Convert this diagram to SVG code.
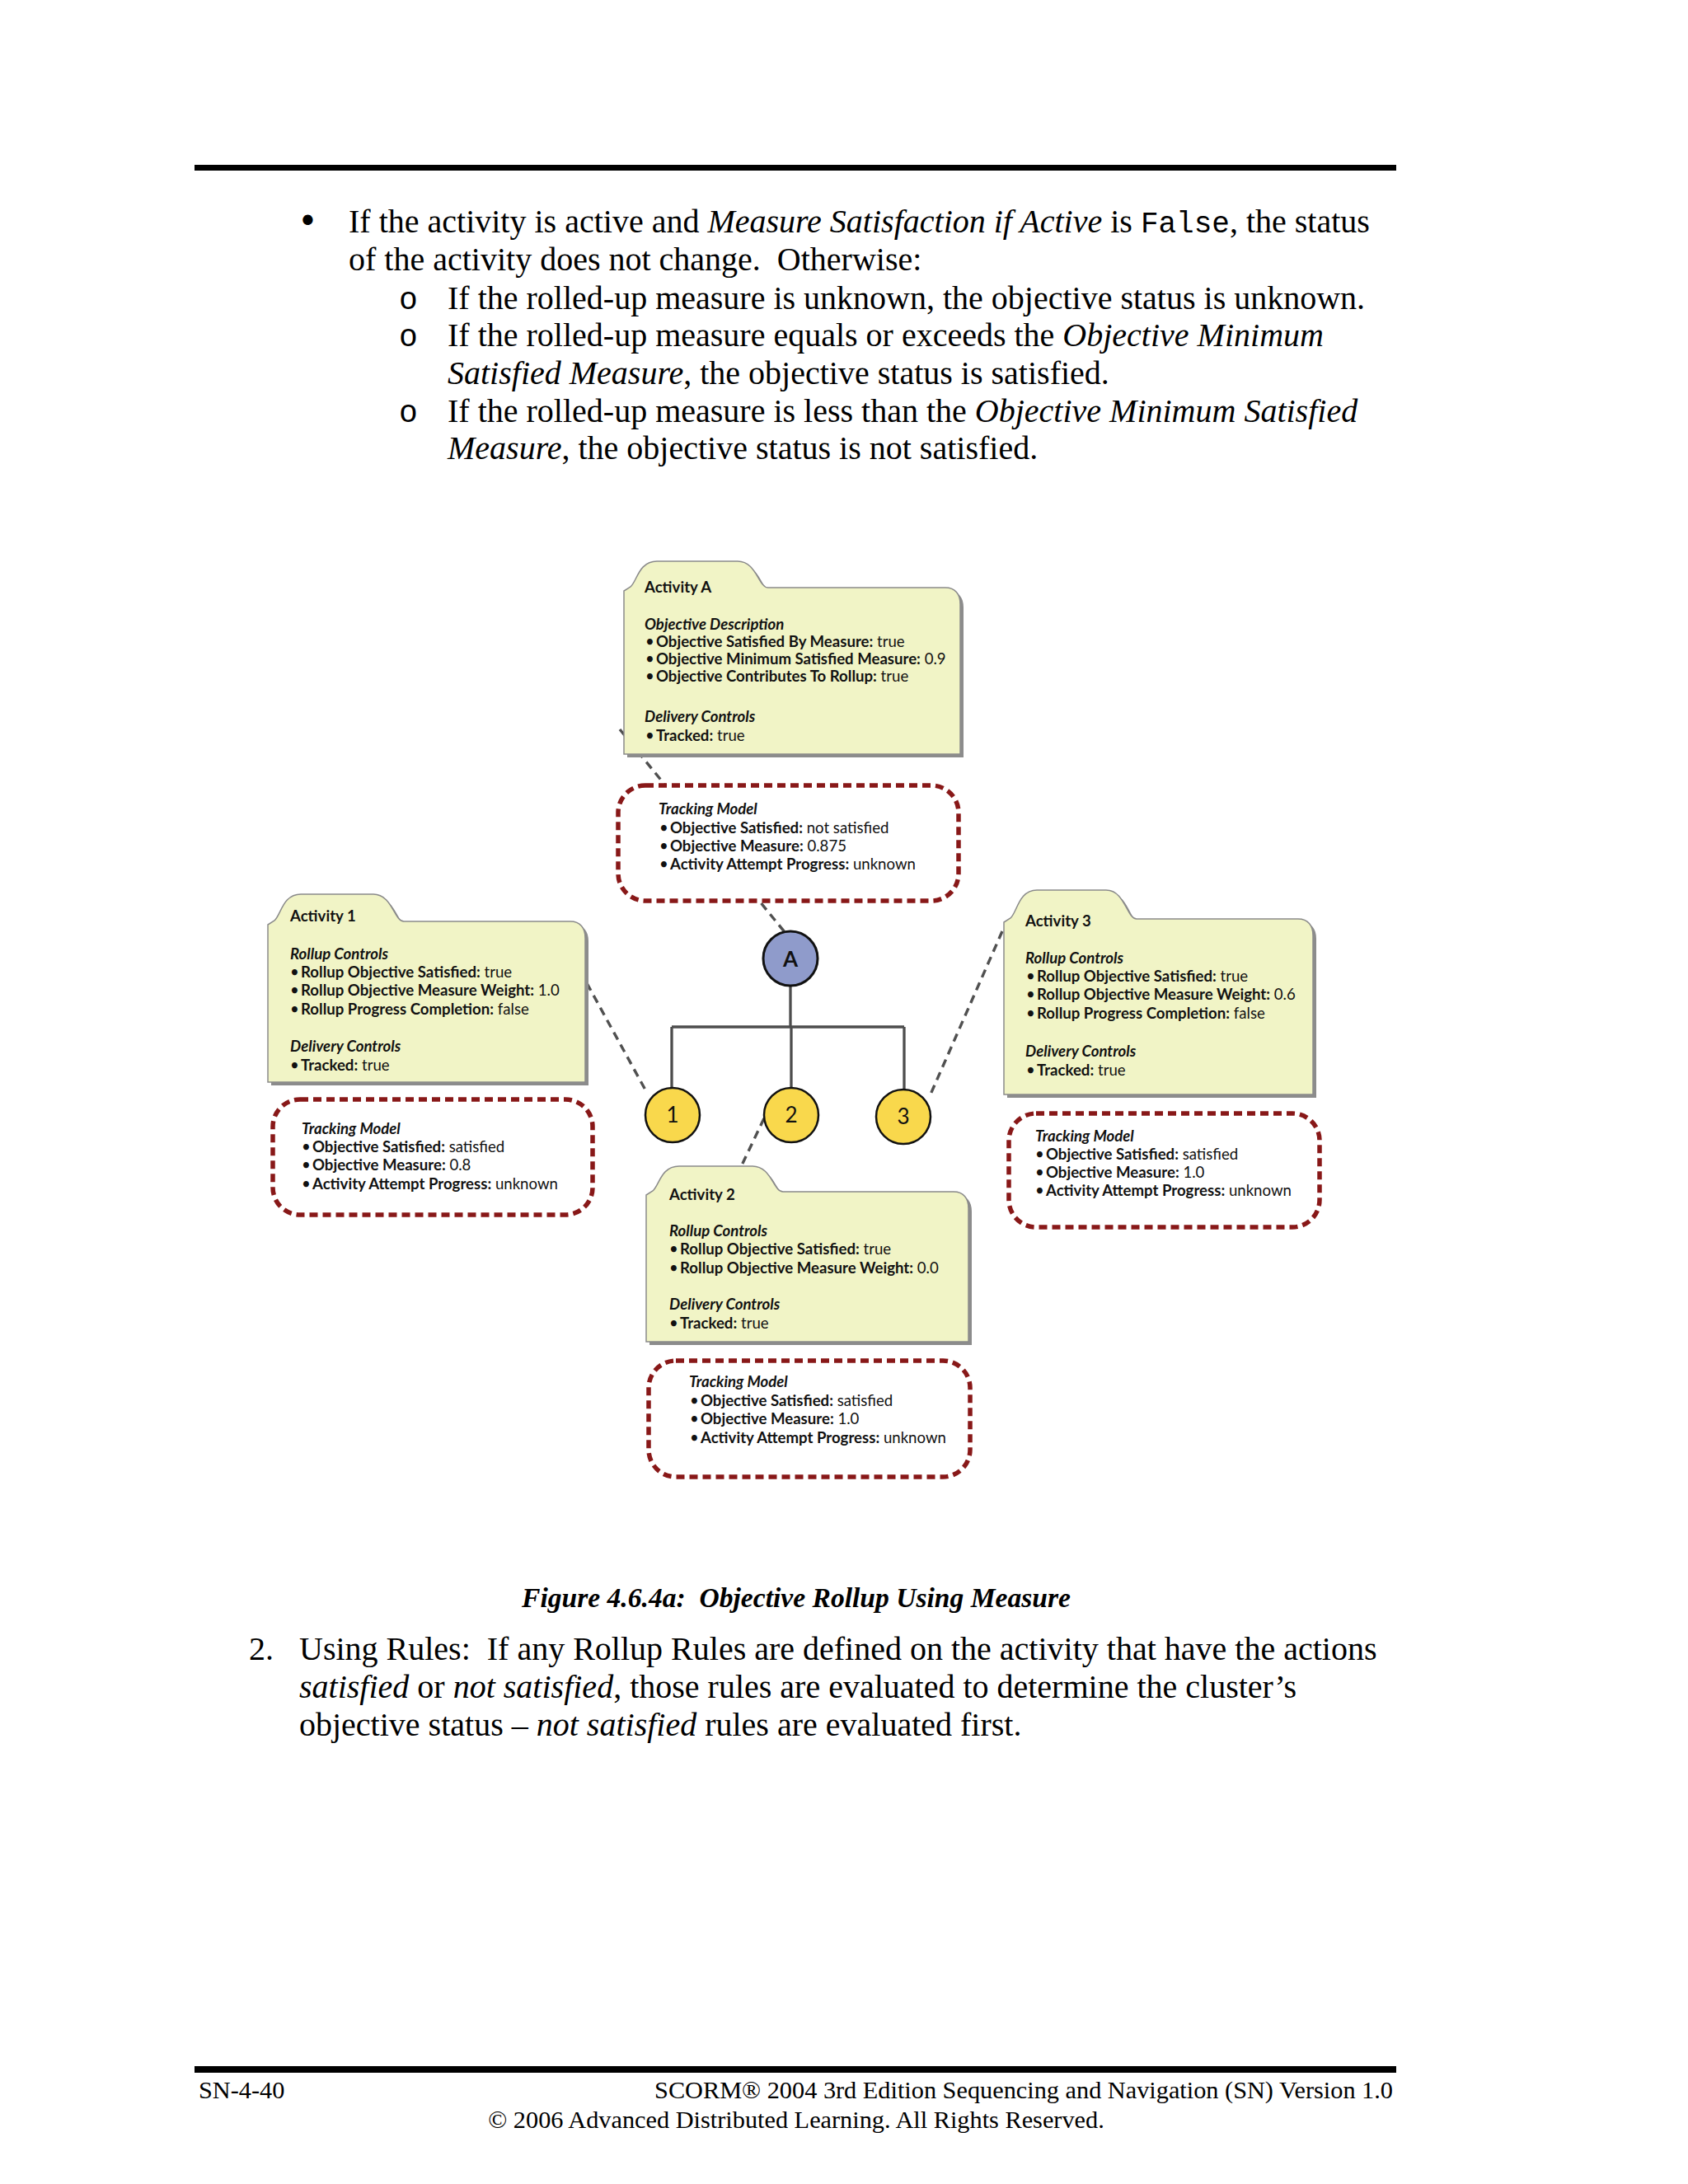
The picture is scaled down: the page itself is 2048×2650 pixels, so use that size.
<svg xmlns="http://www.w3.org/2000/svg" width="2048" height="2650" viewBox="0 0 2048 2650">
<style>
.page{font-family:"Liberation Serif","Times New Roman",serif;font-size:40px;fill:#000}
.it{font-style:italic}
.mono{font-family:"Liberation Mono","Courier New",monospace;font-size:36px}
.bul{font-family:"DejaVu Sans",sans-serif;font-size:42px}
.sub{font-family:"Liberation Mono","Courier New",monospace;font-size:38px}
.foot{font-family:"Liberation Serif","Times New Roman",serif;font-size:30.3px;fill:#000}
.cap{font-family:"Liberation Serif","Times New Roman",serif;font-size:33.6px;font-weight:bold;font-style:italic}
.folder{fill:#f1f4c6;stroke:#8a8a8a;stroke-width:1.5}
.shadow{fill:#8c8c8c}
.dg{font-family:Lato,"Open Sans",sans-serif;font-size:18.6px;fill:#111}
.b{font-weight:bold}
.bi{font-weight:bold;font-style:italic}
.track{fill:#fff;stroke:#881818;stroke-width:5.5;stroke-dasharray:10 6}
.conn{stroke:#505050;stroke-width:3.4;stroke-dasharray:10 7;fill:none}
.tree{stroke:#4d4d4d;stroke-width:3.3;fill:none}
.circA{fill:#8f9bcb;stroke:#111;stroke-width:3}
.circY{fill:#f9d84c;stroke:#111;stroke-width:2.5}
.num{font-family:Lato,"Open Sans",sans-serif;font-size:26px;fill:#111;text-anchor:middle}
</style>
<rect width="2048" height="2650" fill="#fff"/>
<rect x="236" y="200" width="1458" height="7" fill="#000"/>
<g id="body-text" class="page">
<text x="361" y="283" class="bul">•</text>
<text x="423" y="282">If the activity is active and <tspan class="it">Measure Satisfaction if Active</tspan> is <tspan class="mono">False</tspan>, the status</text>
<text x="423" y="328">of the activity does not change.&#160; Otherwise:</text>
<text x="484" y="375" class="sub">o</text>
<text x="543" y="375">If the rolled-up measure is unknown, the objective status is unknown.</text>
<text x="484" y="420" class="sub">o</text>
<text x="543" y="420">If the rolled-up measure equals or exceeds the <tspan class="it">Objective Minimum</tspan></text>
<text x="543" y="466"><tspan class="it">Satisfied Measure</tspan>, the objective status is satisfied.</text>
<text x="484" y="512" class="sub">o</text>
<text x="543" y="512">If the rolled-up measure is less than the <tspan class="it">Objective Minimum Satisfied</tspan></text>
<text x="543" y="557"><tspan class="it">Measure</tspan>, the objective status is not satisfied.</text>
</g>
<g id="connectors">
<line class="conn" x1="752" y1="885" x2="952" y2="1131"/>
<line class="conn" x1="712" y1="1193" x2="785" y2="1326"/>
<line class="conn" x1="1216" y1="1130" x2="1128" y2="1330"/>
<line class="conn" x1="927" y1="1357" x2="898" y2="1418"/>
<path class="tree" d="M959,1196 L959,1246 M815,1246 L1097,1246 M815,1246 L815,1320 M960,1246 L960,1320 M1097,1246 L1097,1322"/>
</g>
<g id="activity-A">
<path class="shadow" transform="translate(4,4)" d="M757,915 L757,717 L765,712 C773,705 775,681 797,681 L895,681 C918,681 920,713 932,713 L1147,713 C1159,713 1165,721 1165,733 L1165,915 Z"/>
<path class="folder" d="M757,915 L757,717 L765,712 C773,705 775,681 797,681 L895,681 C918,681 920,713 932,713 L1147,713 C1159,713 1165,721 1165,733 L1165,915 Z"/>
<g class="dg">
<text x="782" y="719" class="b">Activity A</text>
<text x="782" y="764" class="bi">Objective Description</text>
<text x="783" y="785">•</text><text x="796" y="785"><tspan class="b">Objective Satisfied By Measure:</tspan> true</text>
<text x="783" y="806">•</text><text x="796" y="806"><tspan class="b">Objective Minimum Satisfied Measure:</tspan> 0.9</text>
<text x="783" y="827">•</text><text x="796" y="827"><tspan class="b">Objective Contributes To Rollup:</tspan> true</text>
<text x="782" y="876" class="bi">Delivery Controls</text>
<text x="783" y="899">•</text><text x="796" y="899"><tspan class="b">Tracked:</tspan> true</text>
</g>
</g>
<g id="tracking-A">
<rect class="track" x="750" y="953" width="413" height="140" rx="33"/>
<g class="dg">
<text x="799" y="988" class="bi">Tracking Model</text>
<text x="800" y="1011">•</text><text x="813" y="1011"><tspan class="b">Objective Satisfied:</tspan> not satisfied</text>
<text x="800" y="1033">•</text><text x="813" y="1033"><tspan class="b">Objective Measure:</tspan> 0.875</text>
<text x="800" y="1055">•</text><text x="813" y="1055"><tspan class="b">Activity Attempt Progress:</tspan> unknown</text>
</g>
</g>
<g id="activity-1">
<path class="shadow" transform="translate(4,4)" d="M325,1313 L325,1122 L333,1117 C341,1110 343,1085 365,1085 L453,1085 C476,1085 478,1118 490,1118 L692,1118 C704,1118 710,1126 710,1138 L710,1313 Z"/>
<path class="folder" d="M325,1313 L325,1122 L333,1117 C341,1110 343,1085 365,1085 L453,1085 C476,1085 478,1118 490,1118 L692,1118 C704,1118 710,1126 710,1138 L710,1313 Z"/>
<g class="dg">
<text x="352" y="1118" class="b">Activity 1</text>
<text x="352" y="1164" class="bi">Rollup Controls</text>
<text x="352" y="1186">•</text><text x="365" y="1186"><tspan class="b">Rollup Objective Satisfied:</tspan> true</text>
<text x="352" y="1208">•</text><text x="365" y="1208"><tspan class="b">Rollup Objective Measure Weight:</tspan> 1.0</text>
<text x="352" y="1231">•</text><text x="365" y="1231"><tspan class="b">Rollup Progress Completion:</tspan> false</text>
<text x="352" y="1276" class="bi">Delivery Controls</text>
<text x="352" y="1299">•</text><text x="365" y="1299"><tspan class="b">Tracked:</tspan> true</text>
</g>
</g>
<g id="tracking-1">
<rect class="track" x="331" y="1334" width="388" height="140" rx="33"/>
<g class="dg">
<text x="366" y="1376" class="bi">Tracking Model</text>
<text x="366" y="1398">•</text><text x="379" y="1398"><tspan class="b">Objective Satisfied:</tspan> satisfied</text>
<text x="366" y="1420">•</text><text x="379" y="1420"><tspan class="b">Objective Measure:</tspan> 0.8</text>
<text x="366" y="1443">•</text><text x="379" y="1443"><tspan class="b">Activity Attempt Progress:</tspan> unknown</text>
</g>
</g>
<g id="activity-3">
<path class="shadow" transform="translate(4,4)" d="M1218,1328 L1218,1119 L1226,1114 C1234,1107 1236,1080 1258,1080 L1342,1080 C1365,1080 1367,1115 1379,1115 L1575,1115 C1587,1115 1593,1123 1593,1135 L1593,1328 Z"/>
<path class="folder" d="M1218,1328 L1218,1119 L1226,1114 C1234,1107 1236,1080 1258,1080 L1342,1080 C1365,1080 1367,1115 1379,1115 L1575,1115 C1587,1115 1593,1123 1593,1135 L1593,1328 Z"/>
<g class="dg">
<text x="1244" y="1124" class="b">Activity 3</text>
<text x="1244" y="1169" class="bi">Rollup Controls</text>
<text x="1245" y="1191">•</text><text x="1258" y="1191"><tspan class="b">Rollup Objective Satisfied:</tspan> true</text>
<text x="1245" y="1213">•</text><text x="1258" y="1213"><tspan class="b">Rollup Objective Measure Weight:</tspan> 0.6</text>
<text x="1245" y="1236">•</text><text x="1258" y="1236"><tspan class="b">Rollup Progress Completion:</tspan> false</text>
<text x="1244" y="1282" class="bi">Delivery Controls</text>
<text x="1245" y="1305">•</text><text x="1258" y="1305"><tspan class="b">Tracked:</tspan> true</text>
</g>
</g>
<g id="tracking-3">
<rect class="track" x="1224" y="1351" width="377" height="138" rx="33"/>
<g class="dg">
<text x="1256" y="1385" class="bi">Tracking Model</text>
<text x="1256" y="1407">•</text><text x="1269" y="1407"><tspan class="b">Objective Satisfied:</tspan> satisfied</text>
<text x="1256" y="1429">•</text><text x="1269" y="1429"><tspan class="b">Objective Measure:</tspan> 1.0</text>
<text x="1256" y="1451">•</text><text x="1269" y="1451"><tspan class="b">Activity Attempt Progress:</tspan> unknown</text>
</g>
</g>
<g id="activity-2">
<path class="shadow" transform="translate(4,4)" d="M784,1628 L784,1450 L792,1445 C800,1438 802,1415 824,1415 L913,1415 C936,1415 938,1446 950,1446 L1157,1446 C1169,1446 1175,1454 1175,1466 L1175,1628 Z"/>
<path class="folder" d="M784,1628 L784,1450 L792,1445 C800,1438 802,1415 824,1415 L913,1415 C936,1415 938,1446 950,1446 L1157,1446 C1169,1446 1175,1454 1175,1466 L1175,1628 Z"/>
<g class="dg">
<text x="812" y="1456" class="b">Activity 2</text>
<text x="812" y="1500" class="bi">Rollup Controls</text>
<text x="812" y="1522">•</text><text x="825" y="1522"><tspan class="b">Rollup Objective Satisfied:</tspan> true</text>
<text x="812" y="1545">•</text><text x="825" y="1545"><tspan class="b">Rollup Objective Measure Weight:</tspan> 0.0</text>
<text x="812" y="1589" class="bi">Delivery Controls</text>
<text x="812" y="1612">•</text><text x="825" y="1612"><tspan class="b">Tracked:</tspan> true</text>
</g>
</g>
<g id="tracking-2">
<rect class="track" x="787" y="1651" width="390" height="141" rx="33"/>
<g class="dg">
<text x="836" y="1683" class="bi">Tracking Model</text>
<text x="837" y="1706">•</text><text x="850" y="1706"><tspan class="b">Objective Satisfied:</tspan> satisfied</text>
<text x="837" y="1728">•</text><text x="850" y="1728"><tspan class="b">Objective Measure:</tspan> 1.0</text>
<text x="837" y="1751">•</text><text x="850" y="1751"><tspan class="b">Activity Attempt Progress:</tspan> unknown</text>
</g>
</g>
<g id="node-A"><circle class="circA" cx="959" cy="1163" r="33"/><text class="num" x="959" y="1173" font-weight="bold" font-size="28">A</text></g>
<g id="node-1"><circle class="circY" cx="816" cy="1353" r="33"/><text class="num" x="816" y="1362">1</text></g>
<g id="node-2"><circle class="circY" cx="960" cy="1353" r="33"/><text class="num" x="960" y="1362">2</text></g>
<g id="node-3"><circle class="circY" cx="1096" cy="1355" r="33"/><text class="num" x="1096" y="1364">3</text></g>
<g id="caption-and-text">
<text class="cap" x="966" y="1950" text-anchor="middle">Figure 4.6.4a:&#160; Objective Rollup Using Measure</text>
<g class="page">
<text x="302" y="2014">2.</text>
<text x="363" y="2014">Using Rules:&#160; If any Rollup Rules are defined on the activity that have the actions</text>
<text x="363" y="2060"><tspan class="it">satisfied</tspan> or <tspan class="it">not satisfied</tspan>, those rules are evaluated to determine the cluster’s</text>
<text x="363" y="2106">objective status – <tspan class="it">not satisfied</tspan> rules are evaluated first.</text>
</g>
</g>
<g id="footer">
<rect x="236" y="2507" width="1458" height="8" fill="#000"/>
<text class="foot" x="241" y="2546">SN-4-40</text>
<text class="foot" x="1690" y="2546" text-anchor="end">SCORM® 2004 3rd Edition Sequencing and Navigation (SN) Version 1.0</text>
<text class="foot" x="966" y="2582" text-anchor="middle">© 2006 Advanced Distributed Learning. All Rights Reserved.</text>
</g>
</svg>
